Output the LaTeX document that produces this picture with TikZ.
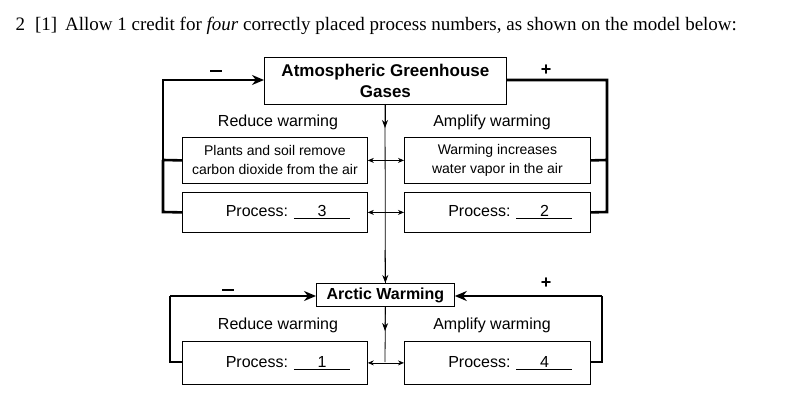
\documentclass[tikz,border=0pt]{standalone}
\usepackage{fontspec}
\setmainfont{Liberation Sans}
\newfontfamily\hdr{Liberation Serif}
\usetikzlibrary{arrows.meta}
\begin{document}
\begin{tikzpicture}[x=1pt,y=-1pt,
  box/.style={draw,line width=0.8pt,inner sep=0pt,anchor=north west},
  lbl/.style={font=\fontsize{16}{18}\selectfont},
  thick line/.style={line width=2.6pt},
  thin arr/.style={line width=0.8pt,-{Stealth[length=8pt,width=6pt]}},
  dbl/.style={line width=0.8pt,{Stealth[length=6pt,width=5pt]}-{Stealth[length=6pt,width=5pt]}},
  big arr/.style={thick line,-{Stealth[length=12pt,width=10pt]}},
  sgn/.style={font=\fontsize{18}{18}\selectfont\bfseries}]
\useasboundingbox (0,0) rectangle (800,406);
\node[anchor=west,font=\hdr\fontsize{19}{22}\selectfont] (hd) at (12,26) {2\hspace{10pt}[1]\hspace{8pt}Allow 1 credit for \textit{four} correctly placed process numbers, as shown on the model below:};
% top
\node[box,minimum width=242pt,minimum height=47pt,align=center,font=\fontsize{17}{21}\selectfont\bfseries] (atm) at (264,57) {Atmospheric Greenhouse\\Gases};
\node[box,minimum width=185pt,minimum height=46pt,align=center,font=\fontsize{14}{19}\selectfont] (pl) at (182,137) {Plants and soil remove\\carbon dioxide from the air};
\node[box,minimum width=186pt,minimum height=46pt,align=center,font=\fontsize{14}{19}\selectfont] (wv) at (404,137) {Warming increases\\water vapor in the air};
\node[box,minimum width=185pt,minimum height=40pt,lbl] (p3) at (182,192) {\hspace{26pt}Process: \underline{\makebox[56pt]{3}}\hfill};
\node[box,minimum width=186pt,minimum height=40pt,lbl] (p2) at (404,192) {\hspace{26pt}Process: \underline{\makebox[56pt]{2}}\hfill};
\node[lbl] (rw1) at (278,122) {Reduce warming};
\node[lbl] (aw1) at (492,122) {Amplify warming};
% bottom
\node[box,minimum width=138pt,minimum height=23pt,font=\fontsize{16}{18}\selectfont\bfseries] (arc) at (316,283) {Arctic Warming};
\node[box,minimum width=185pt,minimum height=43pt,lbl] (p1) at (182,341) {\hspace{26pt}Process: \underline{\makebox[56pt]{1}}\hfill};
\node[box,minimum width=186pt,minimum height=43pt,lbl] (p4) at (404,341) {\hspace{26pt}Process: \underline{\makebox[56pt]{4}}\hfill};
\node[lbl] (rw2) at (278,325) {Reduce warming};
\node[lbl] (aw2) at (492,325) {Amplify warming};
% signs
\node[sgn] (m1) at (216,71) {\rule{12pt}{2.6pt}};
\node[sgn] (pl1) at (546,70) {+};
\node[sgn] (m2) at (228,290) {\rule{12pt}{2.6pt}};
\node[sgn] (pl2) at (546,283) {+};
% central line
\coordinate (c1) at (385,160);
\coordinate (c2) at (385,212);
\coordinate (c3) at (385,362);
\draw[line width=0.8pt] (atm.south -| 385,0) -- (arc.north);
\draw[thin arr] (385,104) -- (385,128);
\draw[thin arr] (385,250) -- (arc.north);
\draw[line width=0.8pt] (arc.south) -- (c3);
\draw[thin arr] (arc.south) -- (385,331);
\draw[dbl] (pl.east) -- (wv.west);
\draw[dbl] (p3.east) -- (p2.west);
\draw[dbl] (p1.east) -- (p4.west);
% loops
\draw[big arr] (pl.west -| 163,0) ++(0,0) (163,161) -- (163,80) -- (atm.west |- 0,80);
\draw[thick line] (pl.west) -- (163,160) (p3.west) -- (163,212) -- (163,160);
\draw[thick line] (wv.east) -- (607,160) (p2.east) -- (607,212) -- (607,80) -- (atm.east |- 0,80);
\draw[thick line] (p1.west |- 0,362) -- (170,362) -- (170,296);
\draw[big arr] (170,296) -- (arc.west |- 0,296);
\draw[thick line] (p4.east |- 0,362) -- (602,362) -- (602,296);
\draw[big arr] (602,296) -- (arc.east |- 0,296);
\end{tikzpicture}
\end{document}
